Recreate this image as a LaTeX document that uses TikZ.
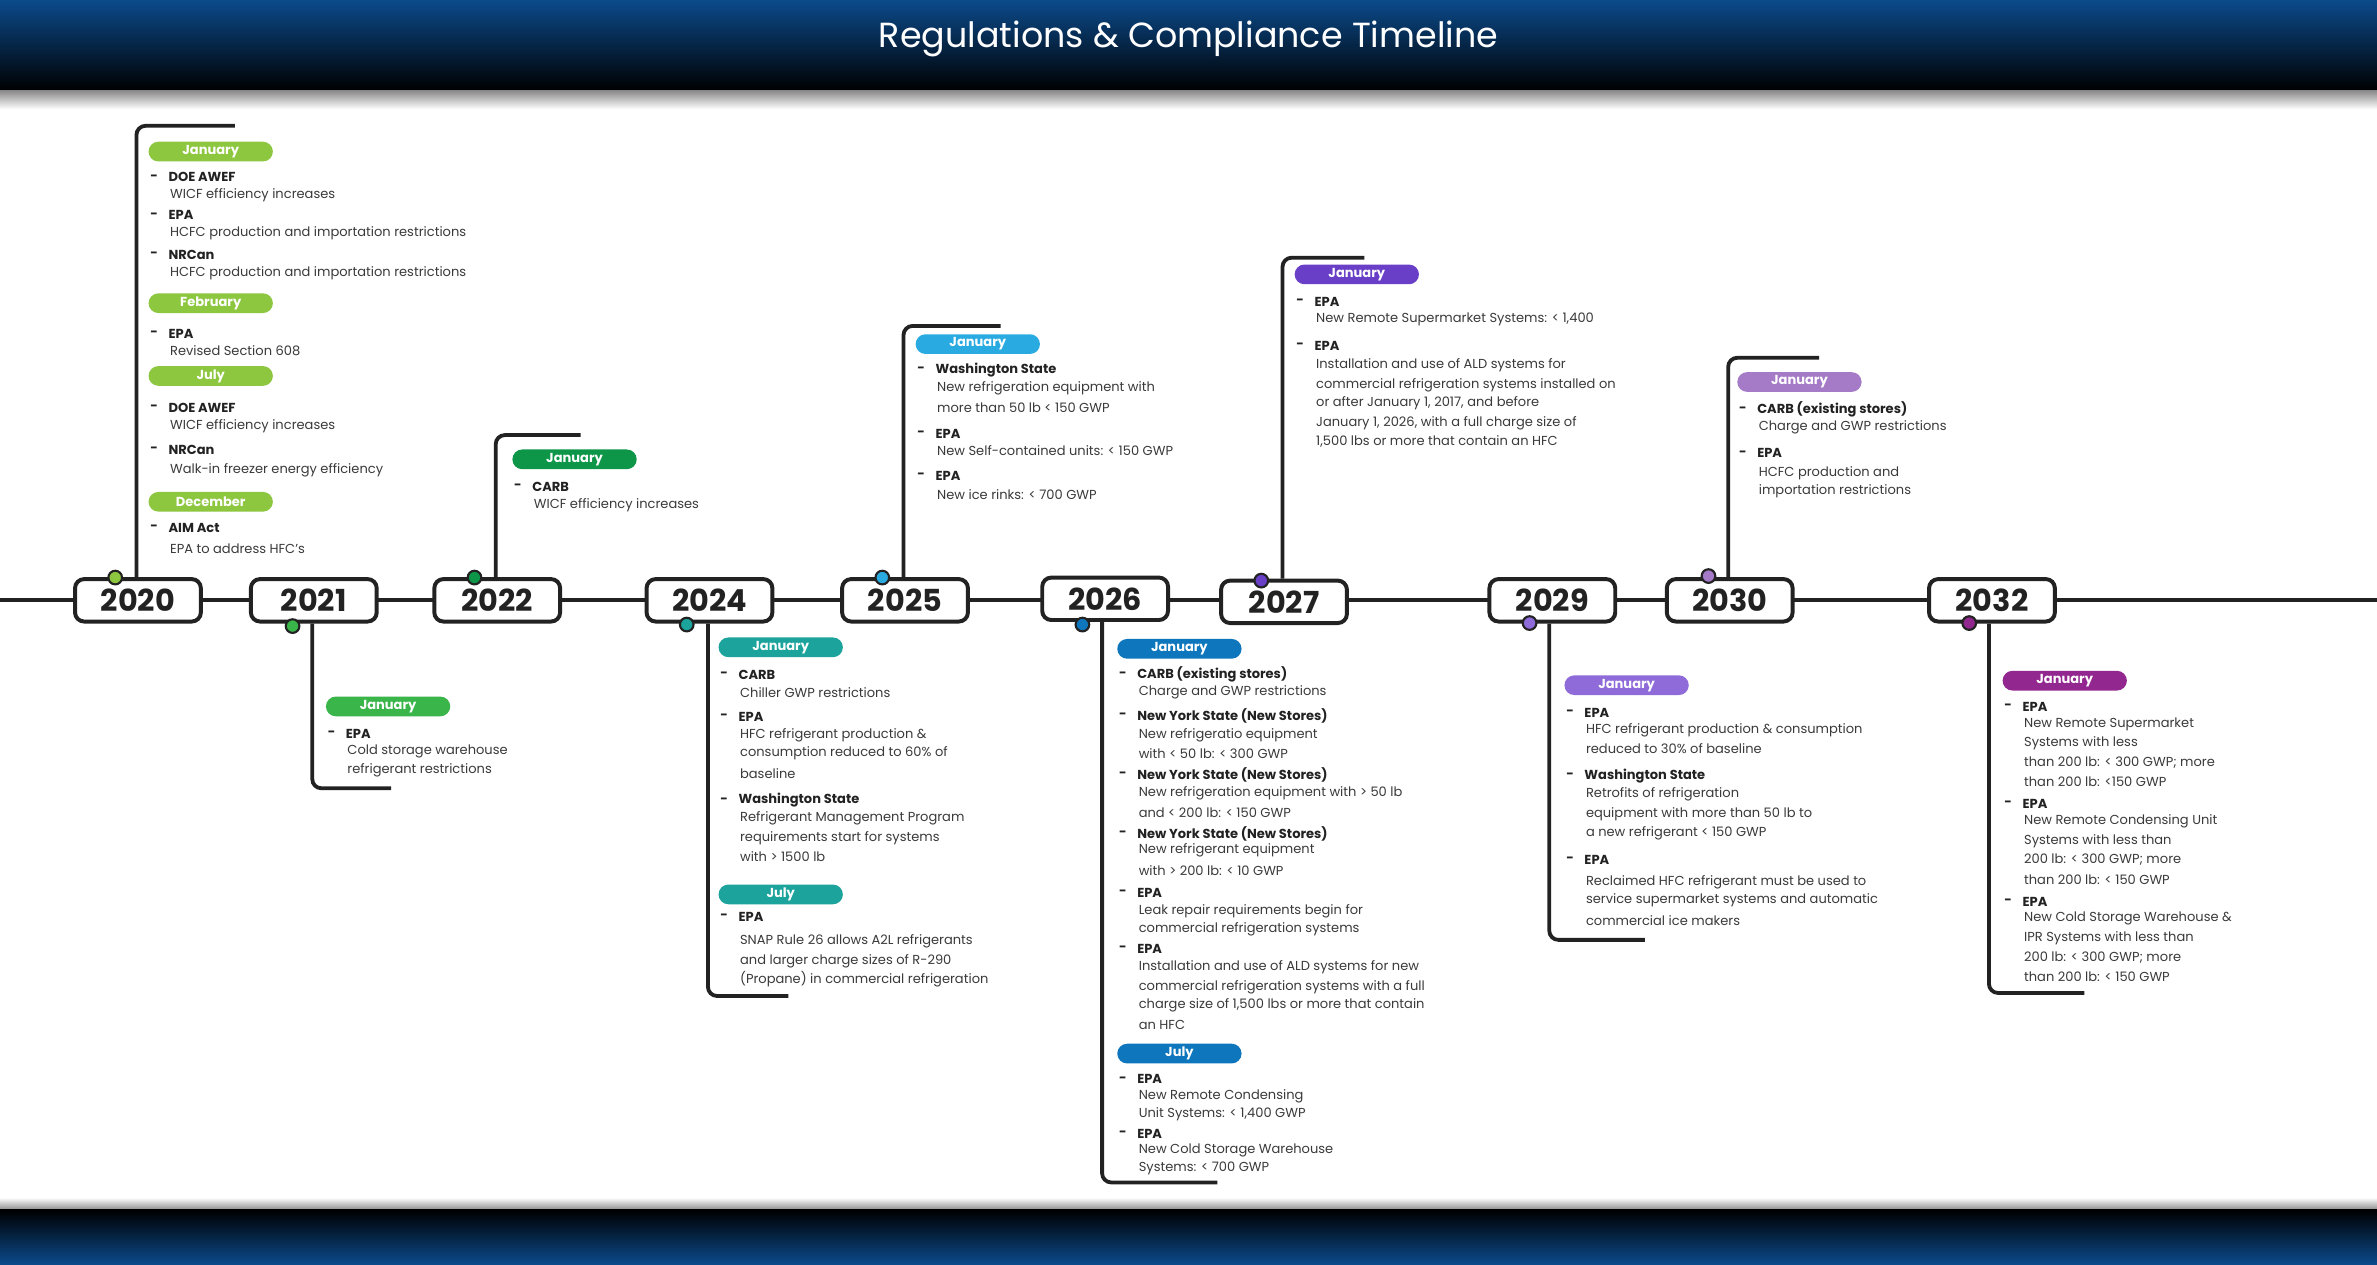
\documentclass[tikz,border=0pt]{standalone}
\usepackage{fontspec}
\setmainfont{Poppins}
\usetikzlibrary{shapes.misc}
\definecolor{c20}{HTML}{8DC63F}
\definecolor{c21}{HTML}{39B54A}
\definecolor{c22}{HTML}{0D9648}
\definecolor{c24}{HTML}{1BA39C}
\definecolor{c25}{HTML}{29ABE2}
\definecolor{c26}{HTML}{0E76BC}
\definecolor{c27}{HTML}{6A3FC8}
\definecolor{c29}{HTML}{8E6BD8}
\definecolor{c30}{HTML}{A57BC8}
\definecolor{c32}{HTML}{92278F}
\definecolor{ink}{HTML}{222222}
\definecolor{txt}{HTML}{3A3A3A}
\definecolor{navy}{HTML}{0B4A8B}
\newcommand\hdr[3]{\node[anchor=west,inner sep=0,font=\fontsize{8.6}{10}\selectfont\bfseries,text=ink] at (#1+1,#2) {-};\node[anchor=west,inner sep=0,font=\fontsize{8.6}{10}\selectfont\bfseries,text=ink] at (#1+13,#2) {#3};}
\newcommand\dsc[3]{\node[anchor=west,inner sep=0,font=\fontsize{8.6}{10}\selectfont,text=txt] at (#1+14,#2) {#3};}
\newcommand\pill[4]{\node[rounded rectangle,fill=#3,minimum width=82pt,minimum height=13pt,inner sep=0,text=white,font=\fontsize{8.6}{10}\selectfont\bfseries] at (#1+41,#2) {#4};}
\tikzset{
 yearbox/.style={draw=ink,line width=2.6pt,fill=white,rounded corners=6pt,minimum width=83pt,minimum height=28pt,inner sep=0,font=\fontsize{20}{22}\selectfont\bfseries,text=ink},
 br/.style={draw=ink,line width=2.5pt,rounded corners=6pt},
 dotm/.style={circle,draw=ink,line width=1.4pt,minimum size=9pt,inner sep=0}
}
\begin{document}
\begin{tikzpicture}[x=1pt,y=-1pt]
\useasboundingbox (0,0) rectangle (1568,834);
\fill[white] (0,0) rectangle (1568,834);
% header
\shade[top color=navy,bottom color=black] (0,0) rectangle (1568,60);
\shade[top color=black!45,bottom color=white] (0,60) rectangle (1568,72);
\node (title) at (784,26) {\color{white}\fontsize{23}{26}\selectfont Regulations \& Compliance Timeline};
% footer
\shade[top color=white,bottom color=black!45] (0,790) rectangle (1568,798);
\shade[top color=black,bottom color=navy] (0,798) rectangle (1568,834);
% timeline
\coordinate (tl0) at (0,396);
\coordinate (tl1) at (1568,396);
\draw[ink,line width=2.5pt] (tl0) -- (tl1);
% year boxes
\node[yearbox] (y2020) at (91,396) {2020};
\node[yearbox] (y2021) at (207,396) {2021};
\node[yearbox] (y2022) at (328,396) {2022};
\node[yearbox] (y2024) at (468,396) {2024};
\node[yearbox] (y2025) at (597,396) {2025};
\node[yearbox] (y2026) at (729,395) {2026};
\node[yearbox] (y2027) at (847,397) {2027};
\node[yearbox] (y2029) at (1024,396) {2029};
\node[yearbox] (y2030) at (1141,396) {2030};
\node[yearbox] (y2032) at (1314,396) {2032};
% brackets
\coordinate (e20) at (155,83);
\coordinate (e21) at (258,520);
\coordinate (e22) at (383,287);
\coordinate (e24) at (520,657);
\coordinate (e25) at (660,215);
\coordinate (e26) at (803,780);
\coordinate (e27) at (900,170);
\coordinate (e29) at (1085,620);
\coordinate (e30) at (1200,236);
\coordinate (e32) at (1375,655);
\draw[br] ([xshift=-1pt]y2020.north) |- (e20);
\draw[br] ([xshift=-1pt]y2021.south) |- (e21);
\draw[br] ([xshift=-1pt]y2022.north) |- (e22);
\draw[br] ([xshift=-1pt]y2024.south) |- (e24);
\draw[br] ([xshift=-1pt]y2025.north) |- (e25);
\draw[br] ([xshift=-2pt]y2026.south) |- (e26);
\draw[br] ([xshift=-1pt]y2027.north) |- (e27);
\draw[br] ([xshift=-2pt]y2029.south) |- (e29);
\draw[br] ([xshift=-1pt]y2030.north) |- (e30);
\draw[br] ([xshift=-2pt]y2032.south) |- (e32);
% dots
\node[dotm,fill=c20] (d20) at (76,381) {};
\node[dotm,fill=c21] (d21) at (193,413) {};
\node[dotm,fill=c22] (d22) at (313,381) {};
\node[dotm,fill=c24] (d24) at (453,412) {};
\node[dotm,fill=c25] (d25) at (582,381) {};
\node[dotm,fill=c26] (d26) at (714,412) {};
\node[dotm,fill=c27] (d27) at (832,383) {};
\node[dotm,fill=c29] (d29) at (1009,411) {};
\node[dotm,fill=c30] (d30) at (1127,380) {};
\node[dotm,fill=c32] (d32) at (1299,411) {};
% 2020
\pill{98}{100}{c20}{January}
\hdr{98}{117}{DOE AWEF}\dsc{98}{129}{WICF efficiency increases}
\hdr{98}{142}{EPA}\dsc{98}{154}{HCFC production and importation restrictions}
\hdr{98}{168}{NRCan}\dsc{98}{180}{HCFC production and importation restrictions}
\pill{98}{200}{c20}{February}
\hdr{98}{220}{EPA}\dsc{98}{231}{Revised Section 608}
\pill{98}{248}{c20}{July}
\hdr{98}{269}{DOE AWEF}\dsc{98}{281}{WICF efficiency increases}
\hdr{98}{297}{NRCan}\dsc{98}{310}{Walk-in freezer energy efficiency}
\pill{98}{331}{c20}{December}
\hdr{98}{348}{AIM Act}\dsc{98}{362}{EPA to address HFC’s}
% 2021
\pill{215}{466}{c21}{January}
\hdr{215}{484}{EPA}\dsc{215}{496}{Cold storage warehouse}\dsc{215}{508}{refrigerant restrictions}
% 2022
\pill{338}{303}{c22}{January}
\hdr{338}{321}{CARB}\dsc{338}{333}{WICF efficiency increases}
% 2024
\pill{474}{427}{c24}{January}
\hdr{474}{445}{CARB}\dsc{474}{457}{Chiller GWP restrictions}
\hdr{474}{473}{EPA}\dsc{474}{485}{HFC refrigerant production \&}\dsc{474}{497}{consumption reduced to 60\% of}\dsc{474}{510}{baseline}
\hdr{474}{528}{Washington State}\dsc{474}{540}{Refrigerant Management Program}\dsc{474}{553}{requirements start for systems}\dsc{474}{565}{with > 1500 lb}
\pill{474}{590}{c24}{July}
\hdr{474}{605}{EPA}\dsc{474}{621}{SNAP Rule 26 allows A2L refrigerants}\dsc{474}{634}{and larger charge sizes of R-290}\dsc{474}{646}{(Propane) in commercial refrigeration}
% 2025
\pill{604}{227}{c25}{January}
\hdr{604}{244}{Washington State}\dsc{604}{256}{New refrigeration equipment with}\dsc{604}{269}{more than 50 lb < 150 GWP}
\hdr{604}{286}{EPA}\dsc{604}{297}{New Self-contained units: < 150 GWP}
\hdr{604}{314}{EPA}\dsc{604}{326}{New ice rinks: < 700 GWP}
% 2026
\pill{737}{428}{c26}{January}
\hdr{737}{445}{CARB (existing stores)}\dsc{737}{457}{Charge and GWP restrictions}
\hdr{737}{472}{New York State (New Stores)}\dsc{737}{485}{New refrigeratio equipment}\dsc{737}{497}{with < 50 lb: < 300 GWP}
\hdr{737}{511}{New York State (New Stores)}\dsc{737}{523}{New refrigeration equipment with > 50 lb}\dsc{737}{536}{and < 200 lb: < 150 GWP}
\hdr{737}{550}{New York State (New Stores)}\dsc{737}{561}{New refrigerant equipment}\dsc{737}{574}{with > 200 lb: < 10 GWP}
\hdr{737}{589}{EPA}\dsc{737}{601}{Leak repair requirements begin for}\dsc{737}{613}{commercial refrigeration systems}
\hdr{737}{626}{EPA}\dsc{737}{638}{Installation and use of ALD systems for new}\dsc{737}{651}{commercial refrigeration systems with a full}\dsc{737}{663}{charge size of 1,500 lbs or more that contain}\dsc{737}{676}{an HFC}
\pill{737}{695}{c26}{July}
\hdr{737}{712}{EPA}\dsc{737}{723}{New Remote Condensing}\dsc{737}{735}{Unit Systems: < 1,400 GWP}
\hdr{737}{748}{EPA}\dsc{737}{759}{New Cold Storage Warehouse}\dsc{737}{771}{Systems: < 700 GWP}
% 2027
\pill{854}{181}{c27}{January}
\hdr{854}{199}{EPA}\dsc{854}{211}{New Remote Supermarket Systems: < 1,400}
\hdr{854}{228}{EPA}\dsc{854}{241}{Installation and use of ALD systems for}\dsc{854}{254}{commercial refrigeration systems installed on}\dsc{854}{266}{or after January 1, 2017, and before}\dsc{854}{279}{January 1, 2026, with a full charge size of}\dsc{854}{291}{1,500 lbs or more that contain an HFC}
% 2029
\pill{1032}{452}{c29}{January}
\hdr{1032}{470}{EPA}\dsc{1032}{482}{HFC refrigerant production \& consumption}\dsc{1032}{494}{reduced to 30\% of baseline}
\hdr{1032}{512}{Washington State}\dsc{1032}{524}{Retrofits of refrigeration}\dsc{1032}{537}{equipment with more than 50 lb to}\dsc{1032}{550}{a new refrigerant < 150 GWP}
\hdr{1032}{567}{EPA}\dsc{1032}{582}{Reclaimed HFC refrigerant must be used to}\dsc{1032}{594}{service supermarket systems and automatic}\dsc{1032}{607}{commercial ice makers}
% 2030
\pill{1146}{252}{c30}{January}
\hdr{1146}{270}{CARB (existing stores)}\dsc{1146}{282}{Charge and GWP restrictions}
\hdr{1146}{299}{EPA}\dsc{1146}{312}{HCFC production and}\dsc{1146}{324}{importation restrictions}
% 2032
\pill{1321}{449}{c32}{January}
\hdr{1321}{466}{EPA}\dsc{1321}{478}{New Remote Supermarket}\dsc{1321}{490}{Systems with less}\dsc{1321}{503}{than 200 lb: < 300 GWP; more}\dsc{1321}{516}{than 200 lb: <150 GWP}
\hdr{1321}{530}{EPA}\dsc{1321}{542}{New Remote Condensing Unit}\dsc{1321}{555}{Systems with less than}\dsc{1321}{567}{200 lb: < 300 GWP; more}\dsc{1321}{580}{than 200 lb: < 150 GWP}
\hdr{1321}{595}{EPA}\dsc{1321}{606}{New Cold Storage Warehouse \&}\dsc{1321}{619}{IPR Systems with less than}\dsc{1321}{632}{200 lb: < 300 GWP; more}\dsc{1321}{644}{than 200 lb: < 150 GWP}
\end{tikzpicture}
\end{document}
